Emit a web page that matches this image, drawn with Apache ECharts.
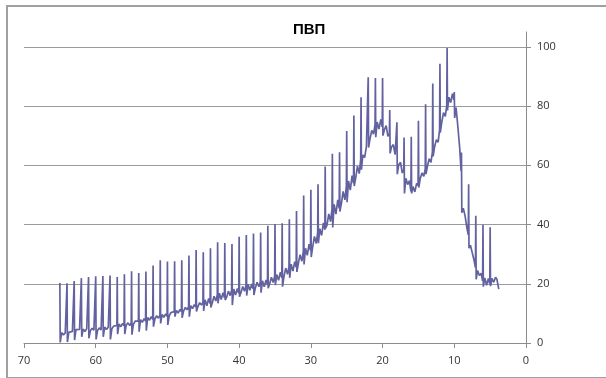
<!DOCTYPE html>
<html><head><meta charset="utf-8">
<script src="https://cdn.jsdelivr.net/npm/echarts@6/dist/echarts.min.js"></script>
<style>
html,body{margin:0;padding:0;background:#fff;overflow:hidden;}
#c{position:absolute;left:0;top:0;width:606px;height:378px;}
#frame{position:absolute;left:6px;top:5px;width:700px;height:370px;border:2px solid #a0a0a0;pointer-events:none;}
</style></head>
<body>
<div id="c"></div>
<div id="frame"></div>
<script>
// Title
const chartTitle = 'ПВП';
// Sample periods (one ECG-like spike per unit on the x axis)
const periods = [65,64,63,62,61,60,59,58,57,56,55,54,53,52,51,50,49,48,47,46,45,44,43,42,41,40,39,38,37,36,35,34,33,32,31,30,29,28,27,26,25,24,23,22,21,20,19,18,17,16,15,14,13,12,11,10,9,8,7,6,5];
// Sample time offsets within each period
const sampleOffsets = [0, -0.05, -0.25, -0.5, -0.75, -0.95];
// Spike tops
const tops = [20.3,20.2,20.9,21.9,22.3,22.5,22.6,22.8,22.3,23.2,24.2,23.6,24.1,26.2,27.9,27.5,27.6,27.9,29.5,31.4,30.6,32.0,34.0,33.8,33.4,35.9,36.5,37.0,37.3,39.6,40.2,40.4,41.8,44.6,49.8,51.7,53.6,59.6,63.9,64.4,71.6,76.8,83.0,89.7,89.5,89.5,78.7,74.5,69.4,69.6,75.0,80.6,87.6,94.3,99.6,84.7,64.3,53.6,43.0,39.9,39.1];
// Dips following each spike
const dips = [0.2,0.3,1.0,2.1,1.6,1.2,2.1,1.2,3.0,3.0,2.8,3.8,4.2,5.5,6.6,6.1,8.9,8.5,8.9,10.6,10.8,12.0,13.4,14.5,12.8,15.6,16.0,16.2,17.0,18.5,19.5,19.0,22.0,24.0,26.5,29.0,33.7,38.7,39.0,44.4,47.5,53.0,58.5,66.0,69.5,70.0,64.0,57.0,50.5,50.5,52.5,57.0,63.0,71.0,78.5,76.0,44.0,32.0,21.5,19.0,19.2];
// Baseline samples between spikes
const baseline = [
 [3.5,2.7,3.4,2.9],[3.6,3.0,3.9,3.4],[4.5,3.9,4.6,4.0],[4.7,3.9,4.8,4.3],[4.1,5.0,4.3,4.9],
 [4.2,5.1,4.4,4.9],[5.4,4.6,5.3,4.9],[4.8,5.7,5.1,5.9],[6.4,5.5,6.6,5.8],[6.0,6.8,5.9,6.9],
 [6.3,7.4,6.8,7.5],[7.9,7.0,8.2,7.4],[8.6,7.7,8.9,8.0],[8.1,9.2,8.4,9.3],[9.6,8.7,9.8,9.0],
 [9.2,10.3,9.7,10.6],[11.0,10.1,11.4,10.6],[10.8,12.0,11.2,12.3],[12.6,11.6,13.0,12.1],[12.3,13.6,12.8,13.7],
 [14.6,12.6,15.0,13.3],[13.5,15.8,14.2,16.2],[16.8,14.7,17.0,15.3],[15.4,17.5,16.0,17.8],[18.2,16.2,18.4,16.8],
 [17.0,19.1,17.5,19.4],[19.8,17.8,19.9,18.3],[18.5,20.5,19.0,20.6],[21.0,19.0,21.3,19.6],[19.9,22.2,20.4,22.6],
 [23.1,21.2,23.9,22.0],[22.4,25.3,23.2,25.8],[26.6,24.3,27.5,25.6],[26.8,29.8,27.6,30.9],[32.0,29.6,33.4,31.2],
 [32.4,36.0,33.6,37.3],[38.6,36.3,40.6,38.2],[39.8,43.6,41.0,45.3],[46.8,43.5,48.3,45.5],[47.0,51.2,48.3,53.0],
 [54.7,51.6,56.5,53.9],[55.7,59.7,57.2,62.0],[63.5,62.6,66.4,65.8],[69.0,71.8,70.5,73.8],[74.6,72.2,75.5,73.0],
 [72.0,73.4,69.8,70.6],[66.2,67.0,63.6,64.2],[60.2,61.0,57.4,58.5],[55.6,53.5,54.8,51.2],[52.8,51.0,53.9,53.2],
 [55.5,57.4,56.3,58.8],[59.6,62.2,61.0,64.5],[66.2,68.6,67.8,72.0],[74.5,77.8,76.5,80.2],[83.0,81.2,84.2,82.0],
 [79.5,73.0,66.0,58.0],[45.5,43.0,39.0,36.5],[33.0,30.5,28.0,25.5],[24.5,22.8,23.5,21.0],[22.0,19.5,21.8,20.0],
 [21.8,20.5,22.2,21.5]
];
// Final samples after the last spike
const tailX = [3.95, 3.8];
const tailY = [22.0, 18.2];
// Axis ticks
const yTicks = [0,20,40,60,80,100];

const data = [];
periods.forEach((k, i) => {
  const vals = [tops[i], dips[i]].concat(baseline[i]);
  vals.forEach((v, j) => data.push([k + sampleOffsets[j], v]));
});
tailX.forEach((x, i) => data.push([x, tailY[i]]));

const chart = echarts.init(document.getElementById('c'), null, {renderer: 'canvas'});
const labelFont = {fontFamily: 'Open Sans, Liberation Sans, sans-serif', fontSize: 11, color: '#333'};
chart.setOption({
  animation: false,
  backgroundColor: '#fff',
  title: {
    text: chartTitle, left: 288, top: 17,
    textStyle: {fontFamily: 'Liberation Sans, Arial, sans-serif', fontWeight: 'bold', fontSize: 15, color: '#000'}
  },
  grid: {left: 24, right: 80, top: 32, bottom: 35, containLabel: false},
  xAxis: {
    type: 'value', min: 0, max: 70, interval: 10, inverse: true,
    axisLine: {show: true, onZero: false, lineStyle: {color: '#8c8c8c', width: 1}},
    axisTick: {show: true, length: 5, lineStyle: {color: '#8c8c8c'}},
    axisLabel: Object.assign({margin: 12}, labelFont),
    splitLine: {show: false}
  },
  yAxis: {
    type: 'value', position: 'right', min: 0, max: 105, interval: 20,
    axisLine: {show: true, lineStyle: {color: '#8c8c8c', width: 1}},
    axisTick: {show: true, length: 5, customValues: yTicks, lineStyle: {color: '#8c8c8c'}},
    axisLabel: Object.assign({margin: 11, customValues: yTicks}, labelFont),
    splitLine: {show: true, lineStyle: {color: '#9a9a9a', width: 1}}
  },
  series: [{
    type: 'line', data: data, showSymbol: false, symbol: 'none',
    lineStyle: {color: '#6262a0', width: 1.7},
    sampling: null
  }]
});
</script>
</body></html>
